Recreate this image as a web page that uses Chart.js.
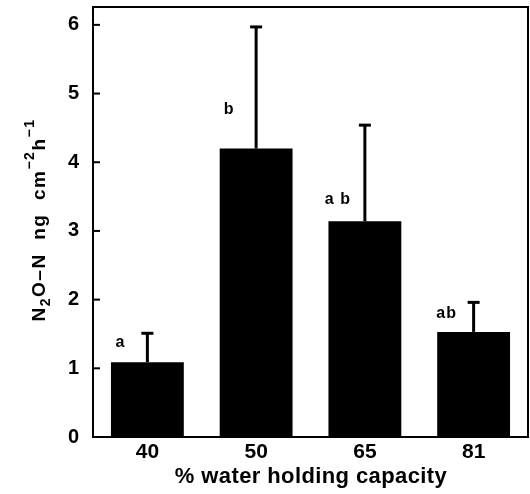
<!DOCTYPE html>
<html>
<head>
<meta charset="utf-8">
<script src="https://cdn.jsdelivr.net/npm/chart.js@4/dist/chart.umd.min.js"></script>
<style>
  html, body { margin: 0; padding: 0; background: #fff; }
  #wrap { width: 530px; height: 494px; }
</style>
</head>
<body>
<div id="wrap"><canvas id="c" width="530" height="494"></canvas></div>
<script>
// ---- data ----
const categories = ['40', '50', '65', '81'];          // % water holding capacity
const means      = [1.09, 4.20, 3.14, 1.53];          // N2O-N ng cm-2 h-1
const errors     = [0.42, 1.77, 1.40, 0.43];          // upper error bar length
const letters    = ['a', 'b', 'a b', 'ab'];           // significance letters
const letterY    = [1.38, 4.76, 3.46, 1.80];          // letter heights (data units)
const yTicks     = [0, 1, 2, 3, 4, 5, 6];
const yMax       = 6.26;
const xTitle     = '% water holding capacity';

const deco = {
  id: 'deco',
  afterDatasetsDraw(chart) {
    const { ctx, chartArea: a, scales: { y } } = chart;
    const meta = chart.getDatasetMeta(0);
    ctx.save();
    ctx.strokeStyle = '#000';
    ctx.fillStyle = '#000';
    // error bars (upper only)
    meta.data.forEach((bar, i) => {
      const top = y.getPixelForValue(means[i] + errors[i]);
      ctx.lineWidth = 3;
      ctx.beginPath(); ctx.moveTo(bar.x, bar.y); ctx.lineTo(bar.x, top); ctx.stroke();
      ctx.beginPath(); ctx.moveTo(bar.x - 6, top); ctx.lineTo(bar.x + 6, top); ctx.stroke();
      ctx.font = 'bold 16px "Liberation Sans"';
      ctx.textAlign = 'center';
      ctx.textBaseline = 'middle';
      ctx.letterSpacing = '1px';
      ctx.fillText(letters[i], bar.x - 27, y.getPixelForValue(letterY[i]));
    });
    ctx.letterSpacing = '0px';
    // frame
    ctx.lineWidth = 2;
    ctx.strokeRect(a.left, a.top, a.right - a.left, a.bottom - a.top);
    // inward y ticks
    yTicks.forEach(v => {
      const py = y.getPixelForValue(v);
      ctx.beginPath(); ctx.moveTo(a.left, py); ctx.lineTo(a.left + 7, py); ctx.stroke();
    });
    // x title
    ctx.font = 'bold 22px "Liberation Sans"';
    ctx.textAlign = 'center';
    ctx.textBaseline = 'alphabetic';
    ctx.letterSpacing = '0.4px';
    ctx.fillText(xTitle, 311, 483);
    // y title with sub/superscripts
    const segs = [
      { t: 'N', s: 0 }, { t: '2', s: 1 }, { t: 'O\u2013N  ng  cm', s: 0 },
      { t: '\u2212', s: 2 }, { t: '2', s: 2 }, { t: 'h', s: 0 }, { t: '\u2212', s: 2 }, { t: '1', s: 2 }
    ];
    const fontFor = s => s === 0 ? 'bold 19px "Liberation Sans"' : 'bold 14px "Liberation Sans"';
    ctx.letterSpacing = '1.5px';
    let total = 0;
    segs.forEach(g => { ctx.font = fontFor(g.s); g.w = ctx.measureText(g.t).width; total += g.w; });
    ctx.translate(45, 220);
    ctx.rotate(-Math.PI / 2);
    ctx.textAlign = 'left';
    let xx = -total / 2;
    segs.forEach(g => {
      ctx.font = fontFor(g.s);
      const dy = g.s === 1 ? 5 : (g.s === 2 ? -11 : 0);
      ctx.fillText(g.t, xx, dy);
      xx += g.w;
    });
    ctx.restore();
  }
};

new Chart(document.getElementById('c'), {
  type: 'bar',
  data: {
    labels: categories,
    datasets: [{
      data: means,
      backgroundColor: '#000',
      borderWidth: 0,
      barPercentage: 0.67,
      categoryPercentage: 1.0
    }]
  },
  options: {
    responsive: false,
    devicePixelRatio: 1,
    animation: false,
    layout: { padding: { top: 7, right: 2, left: 0, bottom: 0 } },
    plugins: { legend: { display: false }, tooltip: { enabled: false } },
    scales: {
      x: {
        grid: { display: false, drawTicks: false },
        border: { display: false },
        ticks: { color: '#000', font: { family: 'Liberation Sans', weight: 'bold', size: 21 }, padding: 3, maxRotation: 0 },
        afterFit(s) { s.height = 57; s.paddingLeft = 0; s.paddingRight = 0; }
      },
      y: {
        min: 0, max: yMax,
        grid: { display: false, drawTicks: false },
        border: { display: false },
        ticks: {
          stepSize: 1, color: '#000', padding: 14,
          font: { family: 'Liberation Sans', weight: 'bold', size: 20 }
        },
        afterBuildTicks(s) { s.ticks = yTicks.map(v => ({ value: v })); },
        afterFit(s) { s.width = 93; s.paddingTop = 0; s.paddingBottom = 0; }
      }
    }
  },
  plugins: [deco]
});
</script>
</body>
</html>
